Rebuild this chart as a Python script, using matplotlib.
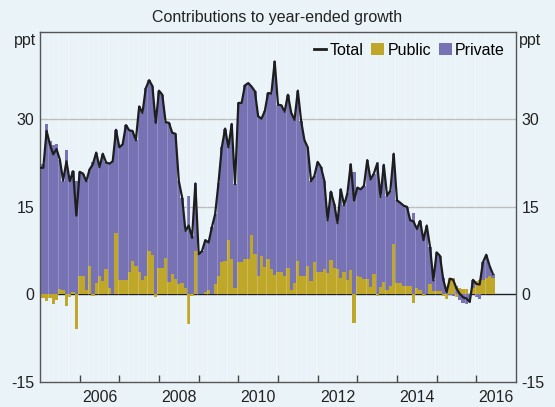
import numpy as np
import matplotlib
matplotlib.use('Agg')
import matplotlib.pyplot as plt
from matplotlib.lines import Line2D
from matplotlib.patches import Patch

plt.rcParams['font.family'] = ['Liberation Sans', 'DejaVu Sans']
plt.rcParams['axes.unicode_minus'] = False

# monthly data, Jan 2005 - Jun 2016 (ppt)
total = [21.7, 21.7, 28.0, 25.7, 24.0, 24.9, 23.1, 19.5, 22.8, 19.4, 21.1, 13.5,
         21.0, 20.7, 19.4, 21.4, 22.3, 24.3, 21.8, 24.1, 22.6, 22.4, 22.8, 28.2,
         25.2, 25.7, 29.0, 28.1, 28.0, 26.4, 32.2, 31.1, 35.3, 36.7, 35.7, 29.4,
         34.9, 34.2, 29.5, 29.4, 27.7, 27.5, 19.4, 16.6, 10.9, 11.8, 9.7, 19.0,
         6.9, 7.4, 9.3, 8.9, 11.5, 13.8, 19.1, 25.2, 28.4, 25.2, 29.2, 18.9,
         32.8, 32.8, 35.8, 36.2, 35.6, 34.8, 30.5, 30.1, 31.4, 34.5, 34.4, 39.9,
         32.5, 32.4, 31.3, 34.2, 31.1, 29.9, 34.9, 29.7, 26.4, 25.2, 19.4, 20.3,
         22.7, 21.8, 19.5, 12.7, 17.6, 15.5, 12.2, 18.0, 15.3, 17.3, 22.3, 16.1,
         18.3, 18.0, 18.6, 23.0, 19.7, 20.7, 22.4, 16.7, 22.2, 16.9, 17.8, 24.1,
         16.1, 15.7, 15.2, 15.0, 12.7, 12.5, 11.2, 12.6, 9.3, 11.8, 8.1, 2.4,
         7.2, 6.6, 2.5, 0.4, 2.7, 2.5, 1.0, 0.1, -0.5, -0.7, -1.3, 2.5,
         1.8, 1.7, 5.5, 6.8, 4.9, 3.5]
public = [-0.6, -0.6, -1.2, -0.6, -1.6, -0.9, 1.0, 0.7, -1.9, -0.5, 0.4, -6.0,
          3.2, 3.2, 0.7, 4.9, -0.3, 1.9, 3.1, 2.3, 4.3, 1.1, 0.1, 10.6,
          2.4, 2.5, 2.5, 3.8, 5.8, 4.8, 3.9, 2.5, 3.2, 7.5, 6.8, -0.5,
          4.5, 4.5, 6.2, 2.1, 3.5, 2.7, 1.8, 1.9, 1.1, -5.1, -0.3, 7.4,
          0.05, 0.1, 0.4, 0.7, 0.0, 1.8, 3.1, 5.5, 5.7, 9.3, 6.1, 1.1,
          5.6, 5.6, 6.1, 6.1, 10.2, 7.0, 3.2, 6.6, 4.7, 6.1, 4.4, 3.4,
          3.8, 3.8, 3.2, 4.5, 0.7, 2.0, 5.8, 3.2, 3.2, 4.8, 2.3, 5.6,
          3.8, 3.8, 4.4, 3.6, 5.9, 4.5, 4.4, 2.8, 3.9, 2.4, 4.1, -4.9,
          3.1, 3.0, 2.7, 2.6, 1.3, 3.5, -0.3, 1.3, 2.2, 0.8, 1.5, 8.6,
          2.0, 2.0, 1.4, 1.5, 1.5, -1.5, 1.1, 0.8, -0.2, 0.1, 1.8, 0.6,
          0.6, 0.6, -0.3, -0.7, 2.8, 2.8, -0.5, 1.1, 1.0, 1.0, 0.0, 1.1,
          2.3, 2.4, 2.4, 2.8, 3.1, 2.8]

total = np.array(total)
public = np.array(public)
private = total - public
dates = 2005 + np.arange(len(total)) / 12

bg = '#EAF4F8'
c_pub = '#BFA829'
c_priv = '#7672B4'

fig = plt.figure(figsize=(5.55, 4.07), dpi=100, facecolor=bg)
ax = fig.add_axes([40/555, 25/407, 476/555, 350.3/407], facecolor=bg)

for yv in [15, 30]:
    ax.axhline(yv, color='#BDBDBD', lw=1, zorder=0)
ax.axhline(0, color='#222222', lw=1, zorder=0.5)

w = 1 / 12
ax.bar(dates, public, width=w, color=c_pub, linewidth=0, zorder=1)
priv_bottom = np.where(private >= 0, np.maximum(public, 0), np.minimum(public, 0))
ax.bar(dates, private, width=w, bottom=priv_bottom, color=c_priv, linewidth=0, zorder=1)

# faint seams between bars
for q in np.arange(2005 + 2.5/12, dates[-1], 0.25):
    ax.axvline(q, color='white', lw=0.6, alpha=0.25, zorder=1.5)

ax.plot(dates, total, color='#1E1E1E', lw=1.6, zorder=3)

ax.set_xlim(2005, 2017)
ax.set_ylim(-15, 45)
ax.set_yticks([-15, 0, 15, 30])
ax.set_xticks(range(2006, 2017))
ax.set_xticklabels([])
ax.set_xticks([2006.5, 2008.5, 2010.5, 2012.5, 2014.5, 2016.5], minor=True)
ax.set_xticklabels(['2006', '2008', '2010', '2012', '2014', '2016'], minor=True)
ax.tick_params(axis='x', which='major', direction='in', length=5, width=1, color='#444444')
ax.tick_params(axis='x', which='minor', length=0, pad=6, labelsize=11.5, colors='#222222')
ax.tick_params(axis='y', length=0, pad=4, labelsize=11.5, labelright=True, colors='#222222')
for s in ax.spines.values():
    s.set_color('#555555')
    s.set_linewidth(1)

fig.text(36/555, 1 - 40/407, 'ppt', ha='right', va='center', fontsize=11.5, color='#222222')
fig.text(519/555, 1 - 40/407, 'ppt', ha='left', va='center', fontsize=11.5, color='#222222')
fig.text(0.5, 1 - 17.5/407, 'Contributions to year-ended growth', ha='center', va='center',
         fontsize=11.5, color='#222222')

handles = [Line2D([], [], color='#1E1E1E', lw=2),
           Patch(facecolor=c_pub, edgecolor='none'),
           Patch(facecolor=c_priv, edgecolor='none')]
ax.legend(handles, ['Total', 'Public', 'Private'], ncol=3, loc='upper right', frameon=False,
          fontsize=11.5, handlelength=0.8, handleheight=0.8, handletextpad=0.2,
          columnspacing=0.5, borderaxespad=0.3)

fig.savefig('out.png', dpi=100, facecolor=bg)
